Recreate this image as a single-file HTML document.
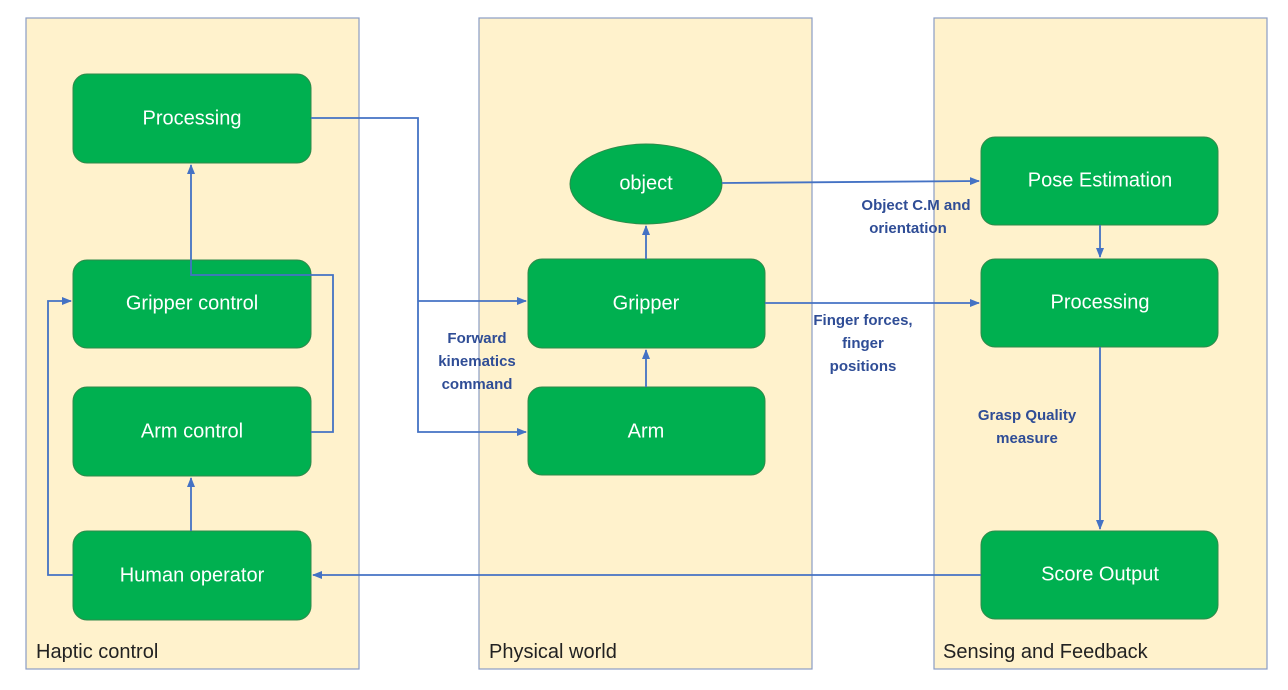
<!DOCTYPE html>
<html><head><meta charset="utf-8"><style>
html,body{margin:0;padding:0;background:#fff;}
svg{display:block;}
.bx{fill:#00b050;stroke:#2f8a4a;stroke-width:1;}
.bt{fill:#fff;font-family:"Liberation Sans",sans-serif;font-size:20px;text-anchor:middle;dominant-baseline:middle;}
.pn{fill:#fff2cc;stroke:#8a9cc4;stroke-width:1.2;}
.pl{fill:#222;font-family:"Liberation Sans",sans-serif;font-size:20px;}
.ln{fill:none;stroke:#4472c4;stroke-width:1.8;}
.lb{fill:#2f4d96;font-family:"Liberation Sans",sans-serif;font-size:15px;font-weight:bold;text-anchor:middle;}
</style></head><body>
<svg width="1288" height="690" viewBox="0 0 1288 690">
<defs><marker id="a" markerWidth="10" markerHeight="8" refX="9" refY="4" orient="auto" markerUnits="userSpaceOnUse"><path d="M0,0 L10,4 L0,8 z" fill="#4472c4"/></marker></defs>
<rect class="pn" x="26" y="18" width="333" height="651"/>
<rect class="pn" x="479" y="18" width="333" height="651"/>
<rect class="pn" x="934" y="18" width="333" height="651"/>
<text class="pl" x="36" y="658">Haptic control</text>
<text class="pl" x="489" y="658">Physical world</text>
<text class="pl" x="943" y="658">Sensing and Feedback</text>

<rect class="bx" x="73" y="74" width="238" height="89" rx="14"/>
<rect class="bx" x="73" y="260" width="238" height="88" rx="14"/>
<rect class="bx" x="73" y="387" width="238" height="89" rx="14"/>
<rect class="bx" x="73" y="531" width="238" height="89" rx="14"/>
<ellipse class="bx" cx="646" cy="184" rx="76" ry="40"/>
<rect class="bx" x="528" y="259" width="237" height="89" rx="14"/>
<rect class="bx" x="528" y="387" width="237" height="88" rx="14"/>
<rect class="bx" x="981" y="137" width="237" height="88" rx="14"/>
<rect class="bx" x="981" y="259" width="237" height="88" rx="14"/>
<rect class="bx" x="981" y="531" width="237" height="88" rx="14"/>

<path class="ln" d="M311,118 H418 V432 H526" marker-end="url(#a)"/>
<path class="ln" d="M418,301 H526" marker-end="url(#a)"/>
<path class="ln" d="M311,432 H333 V275 H191 V165" marker-end="url(#a)"/>
<path class="ln" d="M191,531 V478" marker-end="url(#a)"/>
<path class="ln" d="M73,575 H48 V301 H71" marker-end="url(#a)"/>
<path class="ln" d="M981,575 H313" marker-end="url(#a)"/>
<path class="ln" d="M646,259 V226" marker-end="url(#a)"/>
<path class="ln" d="M646,387 V350" marker-end="url(#a)"/>
<path class="ln" d="M722,183 L979,181" marker-end="url(#a)"/>
<path class="ln" d="M765,303 H979" marker-end="url(#a)"/>
<path class="ln" d="M1100,225 V257" marker-end="url(#a)"/>
<path class="ln" d="M1100,347 V529" marker-end="url(#a)"/>

<text class="bt" x="192" y="119">Processing</text>
<text class="bt" x="192" y="304">Gripper control</text>
<text class="bt" x="192" y="432">Arm control</text>
<text class="bt" x="192" y="576">Human operator</text>
<text class="bt" x="646" y="184">object</text>
<text class="bt" x="646" y="304">Gripper</text>
<text class="bt" x="646" y="432">Arm</text>
<text class="bt" x="1100" y="181">Pose Estimation</text>
<text class="bt" x="1100" y="303">Processing</text>
<text class="bt" x="1100" y="575">Score Output</text>

<text class="lb" x="477" y="343">Forward</text>
<text class="lb" x="477" y="366">kinematics</text>
<text class="lb" x="477" y="389">command</text>
<text class="lb" x="916" y="210">Object C.M and</text>
<text class="lb" x="908" y="233">orientation</text>
<text class="lb" x="863" y="325">Finger forces,</text>
<text class="lb" x="863" y="348">finger</text>
<text class="lb" x="863" y="371">positions</text>
<text class="lb" x="1027" y="420">Grasp Quality</text>
<text class="lb" x="1027" y="443">measure</text>
</svg>
</body></html>
